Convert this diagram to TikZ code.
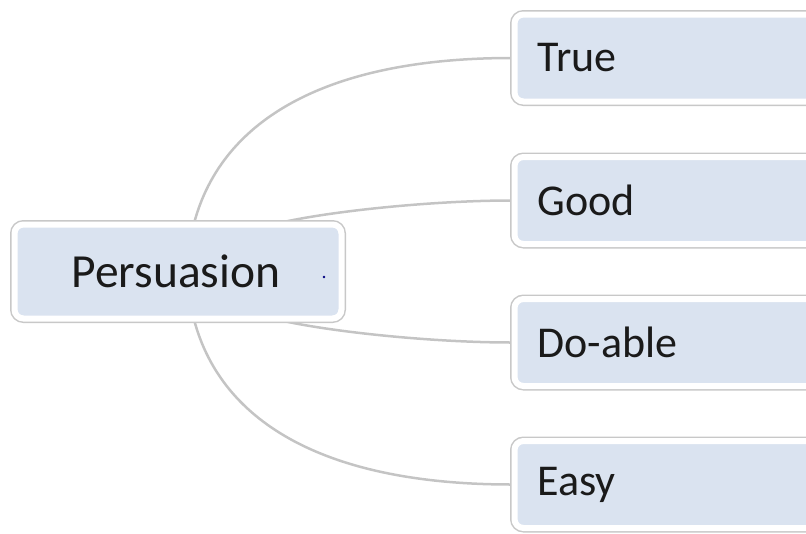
\documentclass[tikz,border=0pt]{standalone}
\usepackage{fontspec}
\setmainfont{Carlito}
\usetikzlibrary{calc,backgrounds}
\definecolor{boxblue}{HTML}{DAE3F0}
\definecolor{rimgray}{HTML}{C8C8C8}
\definecolor{linkgray}{HTML}{C4C4C4}
\definecolor{txt}{HTML}{1A1A1A}
\tikzset{
  mapbox/.style={rectangle, rounded corners=9pt, fill=boxblue, draw=white, line width=6pt,
    preaction={draw=rimgray, line width=9pt}, text=txt,
    font=\fontsize{44}{52}\selectfont},
  rootbox/.style={mapbox, minimum width=327pt, minimum height=94pt, inner sep=0pt,
    font=\fontsize{47.5}{56}\selectfont},
  leafbox/.style={mapbox, anchor=west, minimum height=87pt, text width=360pt, align=left,
    inner xsep=23pt, inner ysep=0pt},
  link/.style={draw=linkgray, line width=2.5pt}
}
\begin{document}
\begin{tikzpicture}[x=1pt,y=-1pt]
\useasboundingbox (0,0) rectangle (806,533);
\clip (0,0) rectangle (806,533);
\node[rootbox] (p) at (178,271.5) {\hspace*{-4pt}Persuasion};
\node[leafbox] (t) at (511.5,58) {True};
\node[leafbox] (g) at (511.5,200.5) {Good};
\node[leafbox] (d) at (511.5,342.5) {Do-able};
\node[leafbox] (e) at (511.5,484.5) {Easy};
\fill[blue!50!black] (324,277) circle (1.3);
\begin{scope}[on background layer]
\draw[link] ($(p.north west)+(182.5,2)$) .. controls +(28,-106) and +(-181.5,0) .. (t.west);
\draw[link] ($(p.north west)+(265.5,2)$) .. controls +(50,-12) and +(-80,0) .. (g.west);
\draw[link] ($(p.south west)+(265.5,-2)$) .. controls +(50,12) and +(-80,0) .. (d.west);
\draw[link] ($(p.south west)+(182.5,-2)$) .. controls +(28,106) and +(-181.5,0) .. (e.west);
\end{scope}
\end{tikzpicture}
\end{document}
